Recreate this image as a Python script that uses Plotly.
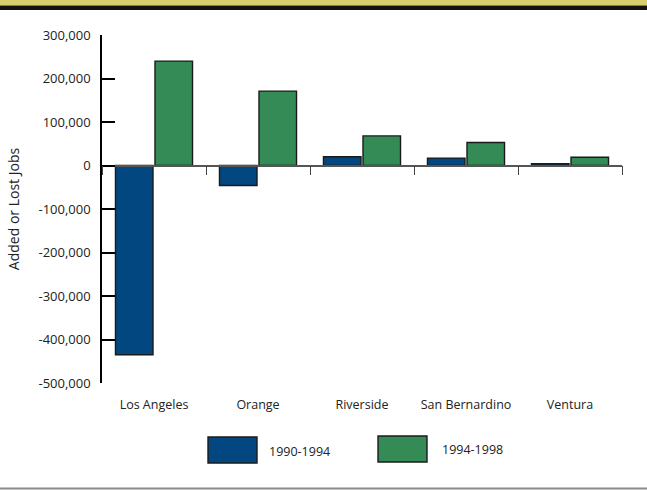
import plotly.graph_objects as go

# Regional job change by county
counties = ["Los Angeles", "Orange", "Riverside", "San Bernardino", "Ventura"]
jobs_1990_1994 = [-435000, -46000, 20000, 17000, 4000]
jobs_1994_1998 = [240000, 171000, 68000, 53000, 19000]
period_labels = ["1990-1994", "1994-1998"]
period_colors = ["#02477f", "#348b55"]
y_ticks = [-500000, -400000, -300000, -200000, -100000, 0, 100000, 200000, 300000]
y_tick_text = [f"{v:,}" for v in y_ticks]

W, H = 647, 490
M_L, M_R, M_T, M_B = 102, 25, 35, 107
PW, PH = W - M_L - M_R, H - M_T - M_B


def px_x(px):
    return (px - M_L) / PW


def px_y(py):
    return (H - M_B - py) / PH


FONT = "Open Sans, Noto Sans, sans-serif"

fig = go.Figure()
for label, vals, col in zip(period_labels, [jobs_1990_1994, jobs_1994_1998], period_colors):
    fig.add_trace(go.Bar(
        x=counties, y=vals, name=label,
        marker=dict(color=col, line=dict(color="#1b1b1b", width=1.4)),
        showlegend=False,
    ))

# invisible companion trace so the zero-level axis (with boundary ticks) is drawn
fig.add_trace(go.Scatter(x=counties, y=[0] * len(counties), xaxis="x2",
                         mode="none", hoverinfo="skip", showlegend=False))

y_min, y_max = y_ticks[0], y_ticks[-1]
zero_pos = (0 - y_min) / (y_max - y_min)

shapes = []
annotations = []

# legend swatches and labels
legend_boxes = [(208, 437, 257, 463), (378, 436, 427, 462)]
legend_text = [(267, 451.5), (440, 449.3)]
for (x0, y0, x1, y1), (tx, ty), lab, col in zip(legend_boxes, legend_text, period_labels, period_colors):
    shapes.append(dict(type="rect", xref="paper", yref="paper",
                       x0=px_x(x0), x1=px_x(x1), y0=px_y(y1), y1=px_y(y0),
                       fillcolor=col, line=dict(color="#1b1b1b", width=1.4)))
    annotations.append(dict(text=lab, xref="paper", yref="paper", x=px_x(tx), y=px_y(ty),
                            xanchor="left", yanchor="middle", showarrow=False,
                            font=dict(family=FONT, size=12.5, color="#222")))

# header band
shapes.append(dict(type="rect", xref="paper", yref="paper", layer="above",
                   x0=px_x(0), x1=px_x(W), y0=px_y(5.5), y1=px_y(0),
                   fillcolor="#d8cd6c", line=dict(width=0)))
shapes.append(dict(type="rect", xref="paper", yref="paper", layer="above",
                   x0=px_x(0), x1=px_x(W), y0=px_y(10), y1=px_y(5.5),
                   fillcolor="#111111", line=dict(width=0)))
# footer rule
shapes.append(dict(type="line", xref="paper", yref="paper",
                   x0=px_x(0), x1=px_x(W), y0=px_y(488.5), y1=px_y(488.5),
                   line=dict(color="#8a8a8a", width=2)))

fig.update_layout(
    width=W, height=H,
    margin=dict(l=M_L, r=M_R, t=M_T, b=M_B),
    paper_bgcolor="white", plot_bgcolor="white",
    barmode="group", bargap=0.24, bargroupgap=0.05,
    font=dict(family=FONT, size=12, color="#222"),
    xaxis=dict(type="category", showline=False, ticks="", showgrid=False, zeroline=False,
               ticklabelstandoff=12, tickfont=dict(size=12.5)),
    xaxis2=dict(type="category", overlaying="x", matches="x", anchor="free", position=zero_pos,
                side="bottom", showline=True, linecolor="#555555", linewidth=1.5,
                tickson="boundaries", ticks="outside", ticklen=9, tickwidth=1.3, tickcolor="#444444",
                showticklabels=False, showgrid=False, zeroline=False),
    yaxis=dict(range=[y_min, y_max], tickvals=y_ticks, ticktext=y_tick_text,
               showline=True, linecolor="black", linewidth=1.5,
               ticks="inside", ticklen=13, tickwidth=1.5, tickcolor="black",
               showgrid=False, zeroline=False, ticklabelstandoff=7,
               tickfont=dict(size=13),
               title=dict(text="Added or Lost Jobs", font=dict(size=14), standoff=16)),
    shapes=shapes,
    annotations=annotations,
)

fig.write_html("out.html")
